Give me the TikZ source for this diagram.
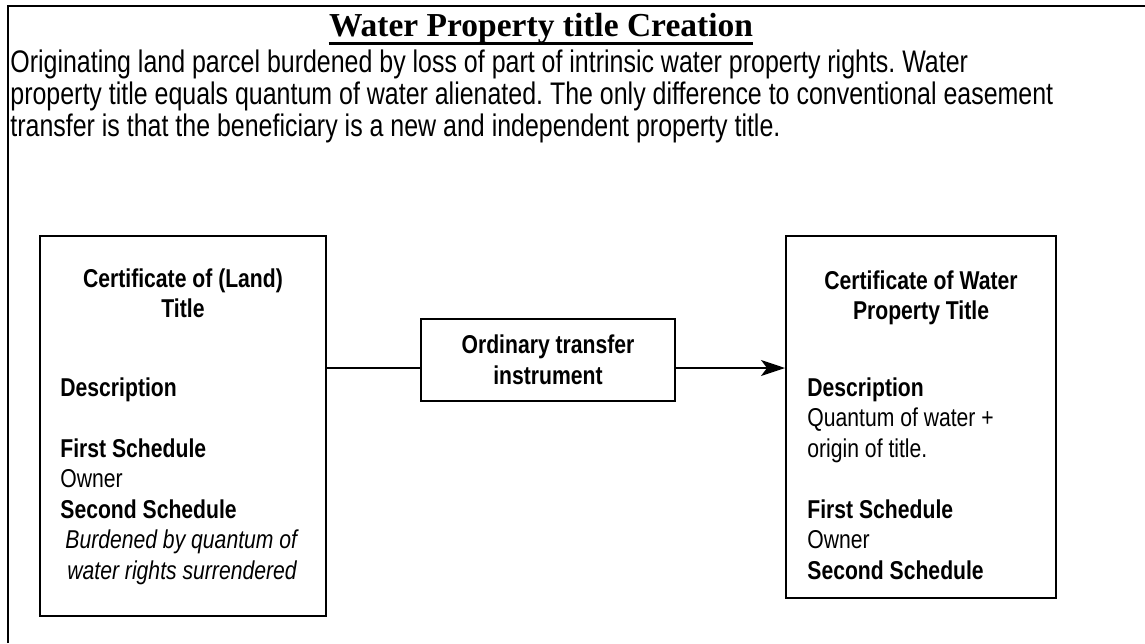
\documentclass[tikz,border=0pt]{standalone}
\usepackage{fontspec}
\setmainfont{Liberation Serif}
\newfontfamily\narrowsf[FakeStretch=0.82]{Liberation Sans}
\newfontfamily\introsf[FakeStretch=0.80]{Liberation Sans}
\usetikzlibrary{arrows.meta,positioning}
\newcommand{\boxfont}{\narrowsf\fontsize{12.9}{15.25}\selectfont}
\newcommand{\introfont}{\introsf\fontsize{15.6}{16}\selectfont}
\frenchspacing

\begin{document}
\begin{tikzpicture}[x=.5pt,y=-.5pt,>={Stealth[length=12pt,width=8pt,inset=3pt]},
  certbox/.style={draw,line width=1pt,inner sep=0pt},
  boxhead/.style={font=\boxfont\bfseries,align=center,inner sep=0pt,anchor=north},
  boxbody/.style={font=\boxfont,align=left,inner sep=0pt,anchor=north west},
  link/.style={line width=.75pt}]
 \useasboundingbox (0,0) rectangle (1145,643);
 % outer frame, open to the right and below
 \draw[line width=1pt] (8,643) |- (1145,6);
 \node[font=\bfseries\fontsize{16.75}{20}\selectfont,inner sep=0pt,anchor=base]
  (heading) at (541,36) {Water Property title Creation};
 \draw[line width=1.4pt] (heading.south west) -- (heading.south east);
 \node[font=\introfont,align=left,inner sep=0pt,anchor=north west] (intro) at (10,49)
  {Originating land parcel burdened by loss of part of intrinsic water property rights. Water\\
   property title equals quantum of water alienated. The only difference to conventional easement\\
   transfer is that the beneficiary is a new and independent property title.};
 % land title
 \node[certbox,minimum width=143pt,minimum height=190pt] (land) at (183,426) {};
 \node[boxhead] (landhead) at (183,268) {Certificate of (Land)\\Title};
 \node[boxbody] (landbody) at (60,377)
  {\textbf{Description}\\[15.25pt]
   \textbf{First Schedule}\\
   Owner\\
   \textbf{Second Schedule}\\
   \hspace*{2.5pt}\textit{Burdened by quantum of}\\
   \hspace*{3.5pt}\textit{water rights surrendered}};
 % transfer
 \node[certbox,minimum width=127pt,minimum height=41pt,font=\boxfont\bfseries,align=center]
  (xfer) at (548,360) {Ordinary transfer\\instrument};
 % water title
 \node[certbox,minimum width=135pt,minimum height=181pt] (water) at (921,417) {};
 \node[boxhead] (waterhead) at (921,270) {Certificate of Water\\Property Title};
 \node[boxbody] (waterbody) at (807,377)
  {\textbf{Description}\\
   Quantum of water +\\
   origin of title.\\[15.25pt]
   \textbf{First Schedule}\\
   Owner\\
   \textbf{Second Schedule}};
 \draw[link] ([yshift=-4pt]xfer.west) -- ([yshift=-4pt]xfer.west -| land.east);
 \draw[link,->] ([yshift=-4pt]xfer.east) -- ([yshift=-4pt]xfer.east -| water.west);
\end{tikzpicture}
\end{document}
